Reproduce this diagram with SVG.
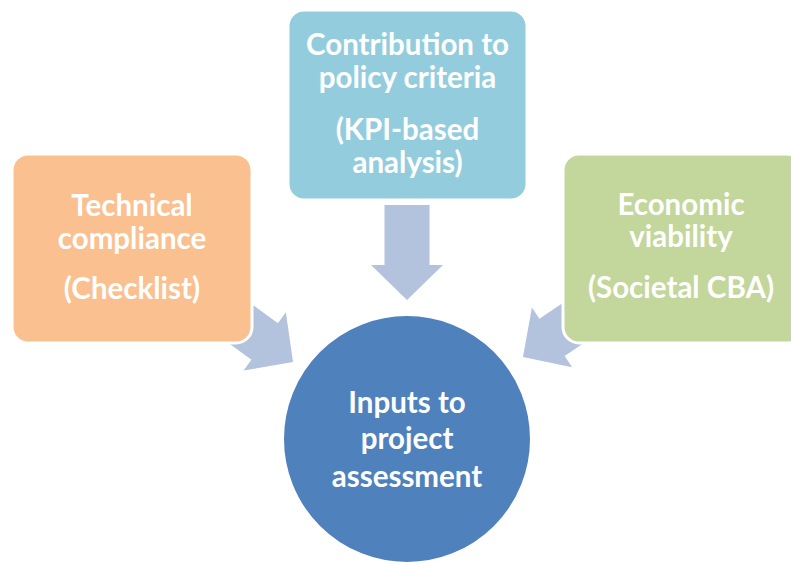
<svg xmlns="http://www.w3.org/2000/svg" width="791" height="563" viewBox="0 0 791 563">
<style>
.box{stroke:#ffffff;stroke-width:3}
.arrow{fill:#B3C2DD}
.t{font-family:Lato,"Open Sans","Liberation Sans",sans-serif;font-weight:bold;font-size:29.5px;fill:#ffffff;text-anchor:middle}
</style>
<defs>
<path id="arr" d="M0,0 L-35,-36 L-35,-22.5 L-80,-22.5 L-80,22.5 L-35,22.5 L-35,36 Z"/>
</defs>
<rect width="791" height="563" fill="#ffffff"/>
<g id="connectors">
<path class="arrow" d="M0,0 L-35,-36 L-35,-22.5 L-95,-22.5 L-95,22.5 L-35,22.5 L-35,36 Z" transform="translate(407,300) rotate(90)"/>
<use href="#arr" class="arrow" transform="translate(293,362) rotate(36)"/>
<use href="#arr" class="arrow" transform="translate(523,357) rotate(146)"/>
</g>
<g id="node-policy">
<rect class="box" x="288" y="10" width="239" height="190" rx="16" fill="#93CDDD"/>
<text class="t" x="407.5" y="55">Contribution to</text>
<text class="t" x="407.5" y="88">policy criteria</text>
<text class="t" x="407.5" y="140">(KPI-based</text>
<text class="t" x="407.5" y="173">analysis)</text>
</g>
<g id="node-technical">
<rect class="box" x="12" y="154" width="240" height="189" rx="16" fill="#FAC090"/>
<text class="t" x="132" y="216">Technical</text>
<text class="t" x="132" y="249">compliance</text>
<text class="t" x="132" y="299">(Checklist)</text>
</g>
<g id="node-economic">
<rect class="box" x="563" y="154" width="240" height="189" rx="16" fill="#C3D69B"/>
<text class="t" x="681" y="215">Economic</text>
<text class="t" x="681" y="247">viability</text>
<text class="t" x="681" y="298">(Societal CBA)</text>
</g>
<g id="node-inputs">
<circle cx="407" cy="439" r="124" fill="#4F81BD" stroke="#ffffff" stroke-width="2"/>
<text class="t" x="407" y="413">Inputs to</text>
<text class="t" x="407" y="449">project</text>
<text class="t" x="407" y="487">assessment</text>
</g>
</svg>
